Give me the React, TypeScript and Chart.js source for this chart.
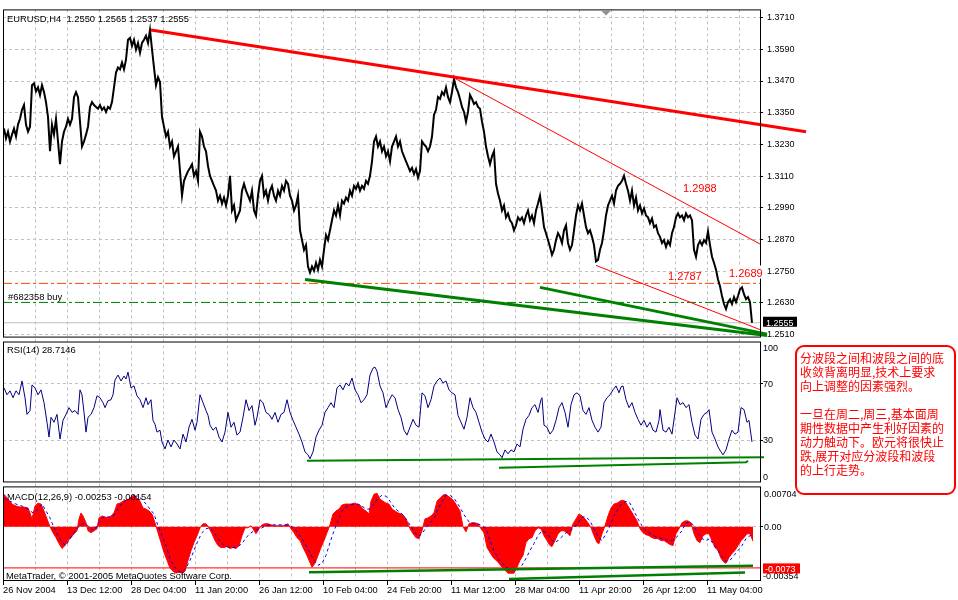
import React, { useEffect, useRef } from 'react';
import { Chart, registerables } from 'chart.js';

Chart.register(...registerables);

// ---------- data ----------
const symbolTitle = 'EURUSD,H4';
const lastBarOHLC = [1.255, 1.2565, 1.2537, 1.2555];

// time axis: one tick every 32 bars, a date label on every second tick
const dateLabels = [
  '26 Nov 2004', '13 Dec 12:00', '28 Dec 04:00', '11 Jan 20:00', '26 Jan 12:00', '10 Feb 04:00',
  '24 Feb 20:00', '11 Mar 12:00', '28 Mar 04:00', '11 Apr 20:00', '26 Apr 12:00', '11 May 04:00',
];
const gridBars = [0, 32, 64, 96, 128, 160, 192, 224, 256, 288, 320, 352, 384, 416, 448, 480, 512, 544, 576, 608, 640, 672, 704, 736];
const barsPerLabel = 64;
const lastBar = 757;

const priceTicks = [1.251, 1.263, 1.275, 1.287, 1.299, 1.311, 1.323, 1.335, 1.347, 1.359, 1.371];

// close prices sampled every 2nd H4 bar, starting at bar 1
const firstBar = 1;
const barStep = 2;
const closePrices = [
  1.3290, 1.3253, 1.3278, 1.3241, 1.3267, 1.3290, 1.3260, 1.3305, 1.3327, 1.3361,
  1.3379, 1.3305, 1.3278, 1.3297, 1.3454, 1.3461, 1.3431, 1.3446, 1.3417, 1.3454,
  1.3428, 1.3390, 1.3334, 1.3204, 1.3305, 1.3267, 1.3327, 1.3241, 1.3155, 1.3241,
  1.3278, 1.3297, 1.3327, 1.3305, 1.3327, 1.3409, 1.3428, 1.3409, 1.3316, 1.3222,
  1.3241, 1.3267, 1.3297, 1.3372, 1.3390, 1.3379, 1.3372, 1.3365, 1.3379, 1.3361,
  1.3370, 1.3353, 1.3372, 1.3365, 1.3390, 1.3446, 1.3502, 1.3521, 1.3514, 1.3540,
  1.3514, 1.3551, 1.3626, 1.3633, 1.3603, 1.3626, 1.3589, 1.3614, 1.3577, 1.3614,
  1.3626, 1.3641, 1.3614, 1.3663, 1.3590, 1.3521, 1.3454, 1.3484, 1.3465, 1.3334,
  1.3297, 1.3260, 1.3278, 1.3222, 1.3241, 1.3185, 1.3204, 1.3222, 1.3129, 1.3036,
  1.3092, 1.3111, 1.3129, 1.3141, 1.3155, 1.3111, 1.3129, 1.3092, 1.3278, 1.3260,
  1.3222, 1.3204, 1.3148, 1.3111, 1.3092, 1.3073, 1.3055, 1.3017, 1.3036, 1.3006,
  1.3029, 1.2999, 1.3036, 1.3111, 1.2980, 1.2999, 1.2943, 1.2961, 1.2980, 1.3055,
  1.3081, 1.3055, 1.3036, 1.3017, 1.3055, 1.2980, 1.2961, 1.3036, 1.3092, 1.3111,
  1.3036, 1.3055, 1.3017, 1.3055, 1.3073, 1.3036, 1.3017, 1.3055, 1.3036, 1.3073,
  1.3055, 1.3092, 1.3081, 1.3036, 1.3017, 1.2980, 1.2999, 1.3036, 1.2905, 1.2868,
  1.2831, 1.2849, 1.2768, 1.2745, 1.2768, 1.2752, 1.2782, 1.2756, 1.2793, 1.2768,
  1.2831, 1.2887, 1.2868, 1.2905, 1.2943, 1.2980, 1.2961, 1.2999, 1.2961, 1.3017,
  1.3006, 1.3029, 1.3017, 1.3055, 1.3036, 1.3073, 1.3062, 1.3081, 1.3055, 1.3073,
  1.3062, 1.3092, 1.3081, 1.3111, 1.3166, 1.3241, 1.3260, 1.3222, 1.3241, 1.3204,
  1.3222, 1.3185, 1.3204, 1.3166, 1.3222, 1.3241, 1.3260, 1.3222, 1.3241, 1.3204,
  1.3185, 1.3166, 1.3148, 1.3129, 1.3141, 1.3118, 1.3137, 1.3104, 1.3129, 1.3241,
  1.3230, 1.3222, 1.3204, 1.3222, 1.3260, 1.3342, 1.3361, 1.3409, 1.3402, 1.3428,
  1.3417, 1.3446, 1.3409, 1.3390, 1.3428, 1.3477, 1.3446, 1.3428, 1.3402, 1.3372,
  1.3353, 1.3316, 1.3353, 1.3417, 1.3402, 1.3383, 1.3390, 1.3372, 1.3365, 1.3316,
  1.3278, 1.3222, 1.3185, 1.3155, 1.3185, 1.3204, 1.3081, 1.3044, 1.3017, 1.2980,
  1.2999, 1.2954, 1.2969, 1.2943, 1.2932, 1.2905, 1.2924, 1.2954, 1.2943, 1.2954,
  1.2932, 1.2961, 1.2980, 1.2943, 1.2961, 1.2932, 1.2980, 1.3006, 1.3036, 1.2980,
  1.2917, 1.2894, 1.2868, 1.2842, 1.2812, 1.2831, 1.2868, 1.2894, 1.2880, 1.2857,
  1.2905, 1.2924, 1.2857, 1.2831, 1.2849, 1.2905, 1.2961, 1.2999, 1.2980, 1.3006,
  1.2961, 1.2917, 1.2894, 1.2905, 1.2880, 1.2849, 1.2787, 1.2793, 1.2831, 1.2857,
  1.2905, 1.2961, 1.2999, 1.3017, 1.3036, 1.3006, 1.3055, 1.3073, 1.3081, 1.3092,
  1.3111, 1.3081, 1.3055, 1.3017, 1.3055, 1.2999, 1.3029, 1.2980, 1.2999, 1.2969,
  1.2988, 1.2961, 1.2954, 1.2932, 1.2950, 1.2917, 1.2924, 1.2894, 1.2880, 1.2857,
  1.2868, 1.2842, 1.2864, 1.2849, 1.2894, 1.2917, 1.2954, 1.2969, 1.2954, 1.2961,
  1.2943, 1.2969, 1.2954, 1.2961, 1.2943, 1.2831, 1.2805, 1.2849, 1.2864, 1.2849,
  1.2868, 1.2857, 1.2901, 1.2849, 1.2805, 1.2782, 1.2756, 1.2719, 1.2693, 1.2656,
  1.2626, 1.2607, 1.2633, 1.2644, 1.2626, 1.2652, 1.2633, 1.2656, 1.2682, 1.2689,
  1.2663, 1.2644, 1.2652, 1.2633, 1.2555,
];

// RSI(14): [bar, value]
const rsiPoints = [
  [1, 67.1], [4, 62.2], [7, 65.0], [10, 60.1], [13, 65.0], [16, 62.2], [19, 72.0], [22, 60.1], [24, 48.3], [27, 51.0],
  [29, 69.2], [32, 67.1], [35, 62.2], [38, 65.7], [41, 56.6], [44, 42.7], [46, 32.2], [48, 46.2], [51, 42.7], [54, 48.3],
  [57, 30.8], [60, 44.1], [63, 48.3], [66, 53.1], [69, 49.7], [72, 51.0], [75, 48.3], [77, 65.7], [79, 62.2], [81, 49.7],
  [83, 35.7], [85, 46.2], [88, 48.3], [91, 53.1], [94, 61.5], [97, 60.1], [100, 56.6], [102, 53.1], [105, 58.0], [108, 58.7],
  [110, 62.2], [112, 72.7], [115, 76.2], [118, 72.0], [121, 75.5], [123, 73.4], [125, 78.3], [128, 67.1], [131, 68.5], [134, 61.5],
  [137, 58.7], [140, 53.1], [143, 60.1], [145, 55.2], [148, 58.7], [150, 44.1], [152, 41.3], [154, 35.7], [157, 37.1], [159, 28.7],
  [162, 23.8], [165, 30.1], [168, 25.2], [171, 30.1], [174, 27.3], [177, 23.8], [180, 34.3], [183, 28.7], [186, 39.2], [189, 44.8],
  [192, 37.1], [194, 42.7], [197, 62.2], [200, 56.6], [203, 51.0], [205, 47.6], [207, 40.6], [210, 37.1], [213, 39.2], [216, 32.2],
  [219, 28.7], [222, 35.7], [225, 49.7], [228, 39.2], [231, 42.7], [234, 33.6], [237, 35.7], [240, 46.2], [243, 58.7], [246, 51.0],
  [249, 54.5], [252, 40.6], [254, 46.2], [257, 58.7], [260, 56.6], [263, 49.7], [266, 48.3], [269, 44.8], [272, 49.7], [275, 42.7],
  [278, 48.3], [281, 49.7], [284, 58.7], [287, 49.7], [290, 44.1], [293, 39.2], [296, 34.3], [299, 28.7], [302, 21.7], [305, 19.6],
  [307, 16.8], [310, 21.7], [313, 32.2], [316, 37.1], [319, 40.6], [322, 49.7], [325, 53.1], [328, 56.6], [331, 53.1], [334, 67.1],
  [337, 69.2], [340, 65.7], [343, 70.6], [346, 68.5], [349, 74.1], [352, 65.7], [355, 62.2], [358, 56.6], [361, 58.7], [364, 62.2],
  [367, 76.2], [370, 81.1], [372, 81.8], [374, 79.0], [377, 68.5], [380, 63.6], [383, 53.1], [386, 58.0], [389, 62.2], [392, 60.1],
  [395, 51.7], [398, 46.2], [401, 37.1], [404, 33.6], [407, 39.2], [410, 44.8], [413, 40.6], [416, 39.2], [419, 63.6], [422, 61.5],
  [425, 53.1], [428, 58.7], [431, 68.5], [434, 72.0], [437, 74.1], [440, 70.6], [443, 72.0], [446, 65.7], [449, 63.6], [452, 62.2],
  [455, 47.6], [458, 42.7], [461, 37.8], [464, 46.2], [467, 60.1], [470, 53.1], [473, 49.7], [476, 42.7], [479, 35.7], [482, 30.8],
  [485, 28.7], [488, 34.3], [491, 28.7], [494, 21.7], [497, 19.6], [499, 17.5], [502, 23.1], [505, 20.3], [508, 23.1], [511, 21.7],
  [514, 27.3], [517, 25.2], [520, 37.8], [523, 44.8], [526, 47.6], [529, 53.1], [532, 55.2], [535, 49.7], [538, 58.7], [539, 60.1],
  [541, 40.6], [544, 39.2], [547, 34.3], [550, 37.1], [553, 44.1], [556, 53.1], [559, 56.6], [562, 49.7], [565, 39.2], [568, 55.2],
  [571, 62.2], [574, 63.6], [577, 61.5], [580, 51.0], [583, 48.3], [586, 53.1], [589, 44.1], [592, 39.2], [595, 35.7], [598, 39.2],
  [601, 56.6], [604, 60.1], [607, 62.2], [610, 65.7], [613, 68.5], [616, 63.6], [618, 67.8], [620, 68.5], [623, 58.7], [626, 53.1],
  [629, 56.6], [632, 49.7], [635, 44.8], [638, 40.6], [641, 44.1], [644, 39.2], [647, 42.7], [650, 37.1], [653, 35.7], [656, 44.1],
  [657, 51.7], [660, 37.1], [663, 35.7], [666, 39.2], [669, 34.3], [672, 49.7], [674, 60.1], [677, 55.2], [680, 56.6], [683, 53.1],
  [686, 55.2], [689, 42.7], [692, 33.6], [695, 30.8], [698, 44.8], [701, 48.3], [704, 49.7], [706, 51.7], [709, 35.7], [712, 30.8],
  [715, 25.2], [718, 21.7], [720, 19.6], [723, 23.1], [726, 30.8], [729, 37.1], [732, 34.3], [735, 35.7], [738, 53.1], [741, 51.7],
  [744, 42.7], [746, 44.1], [749, 28.7146],
];

// MACD(12,26,9) main histogram: [bar, value]
const macdPoints = [
  [1, 0.00578], [5, 0.0049], [9, 0.00403], [13, 0.00368], [17, 0.0035], [21, 0.0035], [25, 0.00333], [27, 0.00245], [29, 0.0014], [32, 0.00368],
  [35, 0.0042], [38, 0.00403], [41, 0.0028], [44, 0.0014], [47, 0], [50, -0.00105], [53, -0.00193], [56, -0.00298], [59, -0.00385], [62, -0.00333],
  [65, -0.00245], [68, -0.00193], [71, -0.00123], [74, -0.0007], [76, 0.0014], [78, 0.00245], [80, 0.00193], [83, 0.0007], [85, -0.0007], [88, -0.00105],
  [91, -0.0007], [94, -0.00035], [96, 0.00158], [99, 0.00193], [102, 0.00175], [105, 0.00158], [108, 0.00193], [111, 0.00245], [114, 0.00403], [117, 0.0042],
  [120, 0.00455], [123, 0.00473], [126, 0.0049], [129, 0.00543], [131, 0.0056], [134, 0.00508], [137, 0.00455], [140, 0.00333], [143, 0.00315], [146, 0.0028],
  [149, 0.00228], [152, 0.0007], [155, -0.00105], [158, -0.0028], [161, -0.00455], [164, -0.00595], [167, -0.00735], [170, -0.00788], [173, -0.00823], [176, -0.00805],
  [179, -0.00823], [182, -0.00788], [185, -0.00595], [188, -0.0042], [191, -0.0028], [194, -0.00158], [197, -0.00018], [200, 0.00053], [203, 0.00053], [206, -0.00018],
  [209, -0.00123], [212, -0.00245], [215, -0.00333], [218, -0.00368], [221, -0.00368], [224, -0.0035], [227, -0.00385], [230, -0.00368], [233, -0.00385], [236, -0.00333],
  [239, -0.00158], [242, -0.00018], [245, -0.00018], [248, 0.00018], [250, -0.00035], [253, -0.00123], [256, -0.00035], [259, 0.00035], [262, 0.00053], [265, 0.00053],
  [268, 0.00035], [271, 0.00018], [274, 0.00018], [277, 0.00018], [280, 0.00018], [283, 0.00035], [285, 0.00053], [288, -0.00035], [291, -0.00105], [294, -0.00193],
  [297, -0.00245], [300, -0.00368], [303, -0.00473], [306, -0.00595], [309, -0.00718], [312, -0.00648], [315, -0.00508], [318, -0.00368], [321, -0.00245], [324, -0.00105],
  [327, 0.00035], [330, 0.00228], [333, 0.0028], [336, 0.00315], [339, 0.00385], [342, 0.00403], [345, 0.00403], [348, 0.00403], [351, 0.0042], [354, 0.00403],
  [357, 0.00385], [360, 0.00315], [363, 0.0028], [366, 0.00228], [368, 0.00455], [371, 0.00578], [374, 0.00595], [377, 0.0049], [380, 0.00455], [383, 0.0042],
  [386, 0.00403], [389, 0.00315], [392, 0.0028], [395, 0.00245], [398, 0.00228], [401, 0.00193], [404, 0.00105], [407, -0.00035], [410, -0.00123], [413, -0.00193],
  [416, -0.0021], [419, -0.0007], [422, 0.0014], [425, 0.00158], [428, 0.00193], [431, 0.00245], [434, 0.00455], [437, 0.00508], [440, 0.0056], [442, 0.00578],
  [445, 0.00543], [448, 0.00508], [451, 0.00455], [454, 0.00368], [457, 0.0028], [460, 0], [463, -0.00088], [466, 0.00053], [469, 0.0007], [472, 0.0007],
  [475, 0.00053], [478, -0.00035], [481, -0.00105], [484, -0.00368], [487, -0.00455], [490, -0.00543], [493, -0.00595], [496, -0.00648], [499, -0.00718], [502, -0.0077],
  [505, -0.00823], [508, -0.00823], [511, -0.00823], [514, -0.00718], [517, -0.00595], [520, -0.00508], [523, -0.0028], [526, -0.0021], [529, -0.00193], [532, -0.0007],
  [535, -0.00018], [538, -0.00035], [541, -0.00158], [544, -0.00245], [547, -0.00333], [549, -0.0035], [552, -0.00245], [555, -0.00123], [558, -0.0007], [561, -0.0007],
  [564, -0.00105], [567, -0.00158], [570, 0.00053], [573, 0.0014], [576, 0.00228], [579, 0.00193], [582, 0.0014], [585, 0.0007], [588, -0.00018], [591, -0.00158],
  [594, -0.0028], [596, -0.00298], [599, -0.00123], [602, 0.00018], [605, 0.00193], [608, 0.00333], [611, 0.00403], [614, 0.0042], [617, 0.00455], [619, 0.00473],
  [622, 0.00455], [625, 0.00368], [628, 0.0028], [631, 0.00193], [634, 0.00105], [637, -0.00035], [640, -0.00105], [643, -0.0014], [646, -0.00158], [649, -0.00193],
  [652, -0.0021], [655, -0.0021], [658, -0.00245], [661, -0.00245], [664, -0.0028], [667, -0.00315], [670, -0.00333], [673, -0.00123], [676, -0.00035], [679, 0.0007],
  [682, 0.00105], [685, 0.00105], [688, 0.0007], [691, -0.00123], [694, -0.00245], [697, -0.0028], [700, -0.00158], [703, -0.00123], [706, -0.00123], [709, -0.00245],
  [712, -0.00368], [715, -0.0042], [718, -0.0056], [721, -0.0063], [723, -0.00648], [726, -0.00543], [729, -0.00473], [732, -0.0042], [735, -0.00333], [738, -0.00245],
  [741, -0.00193], [744, -0.00123], [747, -0.00123], [750, -0.00253],
];

// MACD signal line: [bar, value]
const signalPoints = [
  [1, 0.00508], [7, 0.00455], [13, 0.00403], [19, 0.00368], [25, 0.00315], [30, 0.00245], [35, 0.00315], [39, 0.00403], [43, 0.0028], [47, 0.00158],
  [51, -0.00018], [55, -0.00158], [59, -0.0028], [63, -0.00333], [67, -0.0021], [71, -0.00105], [75, -0.00018], [79, 0.00053], [83, 0.00053], [87, -0.00018],
  [91, -0.0007], [95, 0.00053], [99, 0.00158], [103, 0.00175], [107, 0.00175], [111, 0.0021], [115, 0.00315], [119, 0.0042], [123, 0.00473], [127, 0.00508],
  [131, 0.00543], [135, 0.00543], [139, 0.0049], [143, 0.00403], [147, 0.00315], [151, 0.00228], [155, 0.00018], [159, -0.00158], [163, -0.00333], [167, -0.0056],
  [171, -0.007], [175, -0.00788], [179, -0.00805], [183, -0.00735], [187, -0.00595], [191, -0.0042], [195, -0.00245], [199, -0.00105], [203, -0.00035], [207, -0.00018],
  [211, -0.00105], [215, -0.0021], [219, -0.00298], [223, -0.0035], [227, -0.00368], [231, -0.00368], [235, -0.0035], [239, -0.00298], [243, -0.00193], [247, -0.00123],
  [251, -0.0007], [255, -0.00053], [259, -0.00018], [263, 0.00018], [267, 0.00035], [271, 0.00035], [275, 0.00035], [279, 0.00035], [283, 0.00035], [287, 0.00018],
  [291, -0.00018], [295, -0.00123], [299, -0.0021], [303, -0.00333], [307, -0.00473], [311, -0.00595], [315, -0.00683], [319, -0.00648], [323, -0.00508], [327, -0.0028],
  [331, -0.0007], [335, 0.00105], [339, 0.0028], [343, 0.0035], [347, 0.00385], [351, 0.00403], [355, 0.00403], [359, 0.00368], [363, 0.00315], [367, 0.00315],
  [371, 0.00403], [375, 0.00508], [379, 0.0056], [383, 0.00543], [387, 0.00455], [391, 0.0035], [395, 0.0028], [399, 0.00228], [403, 0.0014], [407, 0.00035],
  [411, -0.0007], [415, -0.00175], [419, -0.00123], [423, -0.00018], [427, 0.0007], [431, 0.0014], [435, 0.00315], [439, 0.00455], [443, 0.0056], [447, 0.0056],
  [451, 0.00508], [455, 0.00403], [459, 0.0028], [463, 0.00158], [467, 0.0007], [471, 0.00053], [475, 0.00053], [479, 0.00018], [483, -0.00035], [487, -0.00245],
  [491, -0.0042], [495, -0.0056], [499, -0.00648], [503, -0.00718], [507, -0.00753], [511, -0.0077], [515, -0.0077], [519, -0.00683], [523, -0.0056], [527, -0.0042],
  [531, -0.00298], [535, -0.00158], [539, -0.0007], [543, -0.00105], [547, -0.00193], [551, -0.0028], [555, -0.00245], [559, -0.00175], [563, -0.00105], [567, -0.0007],
  [571, -0.00018], [575, 0.0007], [579, 0.00175], [583, 0.00175], [587, 0.00105], [591, -0.00035], [595, -0.00175], [599, -0.00245], [603, -0.00123], [607, 0.00018],
  [611, 0.00193], [615, 0.00315], [619, 0.0042], [623, 0.00455], [627, 0.0042], [631, 0.0028], [635, 0.0014], [639, 0.00018], [643, -0.0007], [647, -0.00123],
  [651, -0.00158], [655, -0.00193], [659, -0.0021], [663, -0.00228], [667, -0.00245], [671, -0.00228], [675, -0.00158], [679, -0.0007], [683, 0.0007], [687, 0.00088],
  [691, 0.00018], [695, -0.00123], [699, -0.0021], [703, -0.00245], [707, -0.0021], [711, -0.00333], [715, -0.0042], [719, -0.00525], [723, -0.00613], [727, -0.00595],
  [731, -0.00508], [735, -0.0042], [739, -0.00333], [743, -0.0021], [747, -0.00158], [750, -0.00154],
];

// drawn objects: [bar, value] end points
const redChannelTop = [[148, 1.3663], [803, 1.3278]];
const redUpperLine = [[450, 1.3484], [757, 1.2853]];
const redLowerLine = [[593, 1.2772], [757, 1.2529]];
const greenSupportA = [[302, 1.2719], [764, 1.2507]];
const greenSupportB = [[537, 1.2689], [764, 1.2512]];
const stopLevel = 1.2704;
const orderLevel = 1.2632;
const bidLevel = 1.2555;
const rsiSupportA = [[304, 15.4], [761, 17.8]];
const rsiSupportB = [[496, 10.5], [743, 14.3], [745, 15.4]];
const macdSupportA = [[306, -0.00805], [750, -0.00691]];
const macdSupportB = [[506, -0.00928], [742, -0.0081]];
const macdLevel = -0.0073;

const priceNotes = [
  { text: '1.2988', bar: 680, price: 1.3051 },
  { text: '1.2787', bar: 665, price: 1.2715 },
  { text: '1.2689', bar: 726, price: 1.2730, boxed: true },
];
const orderLabel = '#682358 buy';
const copyright = 'MetaTrader, \u00a9 2001-2005 MetaQuotes Software Corp.';
const commentLines = [
  '分波段之间和波段之间的底',
  '收敛背离明显,技术上要求',
  '向上调整的因素强烈。',
  '',
  '一旦在周二,周三,基本面周',
  '期性数据中产生利好因素的',
  '动力触动下。欧元将很快止',
  '跌,展开对应分波段和波段',
  '的上行走势。',
];

// ---------- helpers ----------
const FONT = '"Liberation Sans", Arial, sans-serif';
const GRID = '#c0c0c0';
const pts = (arr: number[][]) => arr.map(([x, y]) => ({ x, y }));
const flat = (v: number) => [{ x: 0, y: v }, { x: lastBar, y: v }];

function lineDs(data: any[], yAxisID: string, color: string, width: number, extra: any = {}) {
  return {
    type: 'line', data, yAxisID, xAxisID: 'x', borderColor: color, backgroundColor: color,
    borderWidth: width, pointRadius: 0, pointHoverRadius: 0, tension: 0, fill: false, ...extra,
  };
}

const overlayPlugin = {
  id: 'mtOverlay',
  afterDraw(chart: any) {
    const ctx = chart.ctx;
    const { left, right } = chart.chartArea;
    const sx = chart.scales.x;
    const sy = chart.scales.y;
    const sr = chart.scales.rsi;
    const sm = chart.scales.macd;
    ctx.save();

    // panel frames
    ctx.strokeStyle = '#000';
    ctx.lineWidth = 1;
    ctx.setLineDash([]);
    [sy, sr, sm].forEach((s: any) => {
      ctx.strokeRect(left + 0.5, s.top + 0.5, right - left, s.bottom - s.top - 1);
    });

    // chart-shift marker
    ctx.fillStyle = '#909090';
    ctx.beginPath();
    ctx.moveTo(601, sy.top + 1);
    ctx.lineTo(611, sy.top + 1);
    ctx.lineTo(606, sy.top + 6);
    ctx.closePath();
    ctx.fill();

    ctx.textAlign = 'left';
    ctx.textBaseline = 'alphabetic';
    ctx.fillStyle = '#000';
    ctx.font = `9.4px ${FONT}`;
    ctx.fillText(`${symbolTitle}  ${lastBarOHLC.map((v) => v.toFixed(4)).join(' ')}`, left + 4, sy.top + 12.5);
    const rsiLast = rsiPoints[rsiPoints.length - 1][1];
    ctx.fillText(`RSI(14) ${rsiLast.toFixed(4)}`, left + 4, sr.top + 11.5);
    const macdLast = macdPoints[macdPoints.length - 1][1];
    const sigLast = signalPoints[signalPoints.length - 1][1];
    ctx.fillText(`MACD(12,26,9) ${macdLast.toFixed(5)} ${sigLast.toFixed(5)}`, left + 4, sm.top + 13.5);
    ctx.fillText(copyright, left + 3, sm.bottom - 2.5);
    ctx.fillText(orderLabel, left + 5, sy.getPixelForValue(orderLevel) - 2);

    ctx.font = `9px ${FONT}`;
    // RSI axis labels
    const ax = right + 3;
    ctx.fillText('100', ax, sr.getPixelForValue(100) + 9);
    ctx.fillText('70', ax, sr.getPixelForValue(70) + 3.5);
    ctx.fillText('30', ax, sr.getPixelForValue(30) + 3);
    ctx.fillText('0', ax, sr.getPixelForValue(0) - 2.5);
    // MACD axis labels
    ctx.fillText('0.00704', ax + 1, sm.top + 11);
    ctx.fillText('0.00', ax + 1, sm.getPixelForValue(0) + 3);
    ctx.fillText('-0.00354', ax, sm.bottom - 2);

    // current bid box
    const by = sy.getPixelForValue(bidLevel);
    ctx.fillStyle = '#000';
    ctx.fillRect(right + 3, by - 6, 34, 10);
    ctx.fillStyle = '#fff';
    ctx.fillText(bidLevel.toFixed(4), right + 6, by + 3);
    // level box
    const ly = sm.getPixelForValue(macdLevel);
    ctx.fillStyle = '#ff0000';
    ctx.fillRect(right + 3, ly - 4.5, 37, 10);
    ctx.fillStyle = '#fff';
    ctx.fillText(macdLevel.toFixed(4), right + 5, ly + 4.5);

    // price notes
    ctx.font = `11px ${FONT}`;
    priceNotes.forEach((n) => {
      const x = sx.getPixelForValue(n.bar);
      const y = sy.getPixelForValue(n.price);
      if (n.boxed) {
        ctx.fillStyle = '#fff';
        ctx.fillRect(x - 2, y - 11, 36, 13);
      }
      ctx.fillStyle = '#ff0000';
      ctx.fillText(n.text, x, y);
    });

    // comment box
    ctx.beginPath();
    ctx.roundRect(796, 346, 159, 148, 8);
    ctx.fillStyle = '#fff';
    ctx.fill();
    ctx.strokeStyle = '#ff0000';
    ctx.lineWidth = 2;
    ctx.stroke();
    ctx.fillStyle = '#ff0000';
    ctx.font = '12px "Noto Sans CJK SC", sans-serif';
    ctx.textBaseline = 'middle';
    commentLines.forEach((t, i) => ctx.fillText(t, 800, 358 + i * 14));

    ctx.restore();
  },
};

export default function App() {
  const ref = useRef<HTMLCanvasElement | null>(null);

  useEffect(() => {
    if (!ref.current) return;
    const priceData = closePrices.map((p, i) => ({ x: firstBar + i * barStep, y: p }));
    const hideAxis = (weight: number) => ({
      type: 'linear', position: 'right', stack: 'panes', stackWeight: weight, display: true,
      ticks: { display: false }, grid: { display: false }, border: { display: false },
      afterFit: (s: any) => { s.width = 198; },
    });

    const chart = new Chart(ref.current, {
      type: 'line',
      data: {
        datasets: [
          lineDs(pts(redChannelTop), 'y', '#ff0000', 3, { clip: false }),
          lineDs(pts(greenSupportA), 'y', '#008000', 3, { clip: false }),
          lineDs(pts(greenSupportB), 'y', '#008000', 3, { clip: false }),
          lineDs(pts(redUpperLine), 'y', '#ff0000', 1),
          lineDs(pts(redLowerLine), 'y', '#ff0000', 1),
          lineDs(priceData, 'y', '#000000', 2),
          lineDs(flat(stopLevel), 'y', '#ff4500', 1, { borderDash: [9, 3, 3, 3] }),
          lineDs(flat(orderLevel), 'y', '#008000', 1, { borderDash: [9, 3, 3, 3] }),
          lineDs(flat(bidLevel), 'y', '#c0c0c0', 1),
          lineDs(pts(rsiSupportA), 'rsi', '#008000', 2, { clip: false }),
          lineDs(pts(rsiSupportB), 'rsi', '#008000', 2),
          lineDs(pts(rsiPoints), 'rsi', '#000080', 1),
          lineDs(pts(macdSupportA), 'macd', '#008000', 2.5),
          lineDs(pts(macdSupportB), 'macd', '#008000', 2.5),
          lineDs(pts(signalPoints), 'macd', '#0000ff', 1, { borderDash: [3, 3] }),
          lineDs(flat(macdLevel), 'macd', '#ff0000', 1),
          lineDs(pts(macdPoints), 'macd', '#ff0000', 1, { fill: 'origin', backgroundColor: '#ff0000' }),
        ] as any,
      },
      options: {
        responsive: false,
        devicePixelRatio: 1,
        animation: false,
        events: [],
        layout: { padding: { left: 3, top: 1, right: 0, bottom: 0 } },
        plugins: { legend: { display: false }, tooltip: { enabled: false } },
        scales: {
          x: {
            type: 'linear', position: 'bottom', min: 0, max: lastBar,
            afterBuildTicks: (s: any) => { s.ticks = gridBars.map((v) => ({ value: v })); },
            afterFit: (s: any) => { s.height = 19; },
            ticks: {
              autoSkip: false, maxRotation: 0, align: 'start', padding: 0, color: '#000',
              font: { family: FONT, size: 9.3 },
              callback: (v: any) => (v % barsPerLabel === 0 ? dateLabels[v / barsPerLabel] : ''),
            },
            grid: {
              color: (c: any) => (c.tick && c.tick.value === 0 ? 'rgba(0,0,0,0)' : GRID),
              tickColor: (c: any) => (c.tick && c.tick.value % barsPerLabel === 0 ? '#000' : 'rgba(0,0,0,0)'),
              tickLength: 4,
            },
            border: { display: false, dash: [3, 3] },
          },
          y: {
            type: 'linear', position: 'right', stack: 'panes', stackWeight: 333,
            min: 1.24989, max: 1.3741,
            afterBuildTicks: (s: any) => { s.ticks = priceTicks.map((v) => ({ value: v })); },
            afterFit: (s: any) => { s.width = 198; },
            ticks: {
              autoSkip: false, padding: 4, color: '#000', font: { family: FONT, size: 9 },
              callback: (v: any) => Number(v).toFixed(4),
            },
            grid: { color: GRID, tickColor: '#000', tickLength: 3 },
            border: { display: false, dash: [3, 3] },
          },
          gap1: hideAxis(4),
          rsi: {
            type: 'linear', position: 'right', stack: 'panes', stackWeight: 143, min: 0, max: 100,
            afterBuildTicks: (s: any) => { s.ticks = [30, 70].map((v) => ({ value: v })); },
            afterFit: (s: any) => { s.width = 198; },
            ticks: { display: false },
            grid: { color: GRID, tickColor: '#000', tickLength: 3 },
            border: { display: false, dash: [3, 3] },
          },
          gap2: hideAxis(4),
          macd: {
            type: 'linear', position: 'right', stack: 'panes', stackWeight: 96, min: -0.009625, max: 0.007175,
            afterBuildTicks: (s: any) => { s.ticks = [{ value: 0 }]; },
            afterFit: (s: any) => { s.width = 198; },
            ticks: { display: false },
            grid: { color: GRID, tickColor: '#000', tickLength: 3 },
            border: { display: false, dash: [3, 3] },
          },
        } as any,
      },
      plugins: [overlayPlugin],
    } as any);

    return () => chart.destroy();
  }, []);

  return (
    <div style={{ position: 'absolute', left: 0, top: 0, width: 958, height: 600, background: '#fff' }}>
      <canvas ref={ref} width={958} height={600} style={{ display: 'block', width: 958, height: 600 }} />
    </div>
  );
}
